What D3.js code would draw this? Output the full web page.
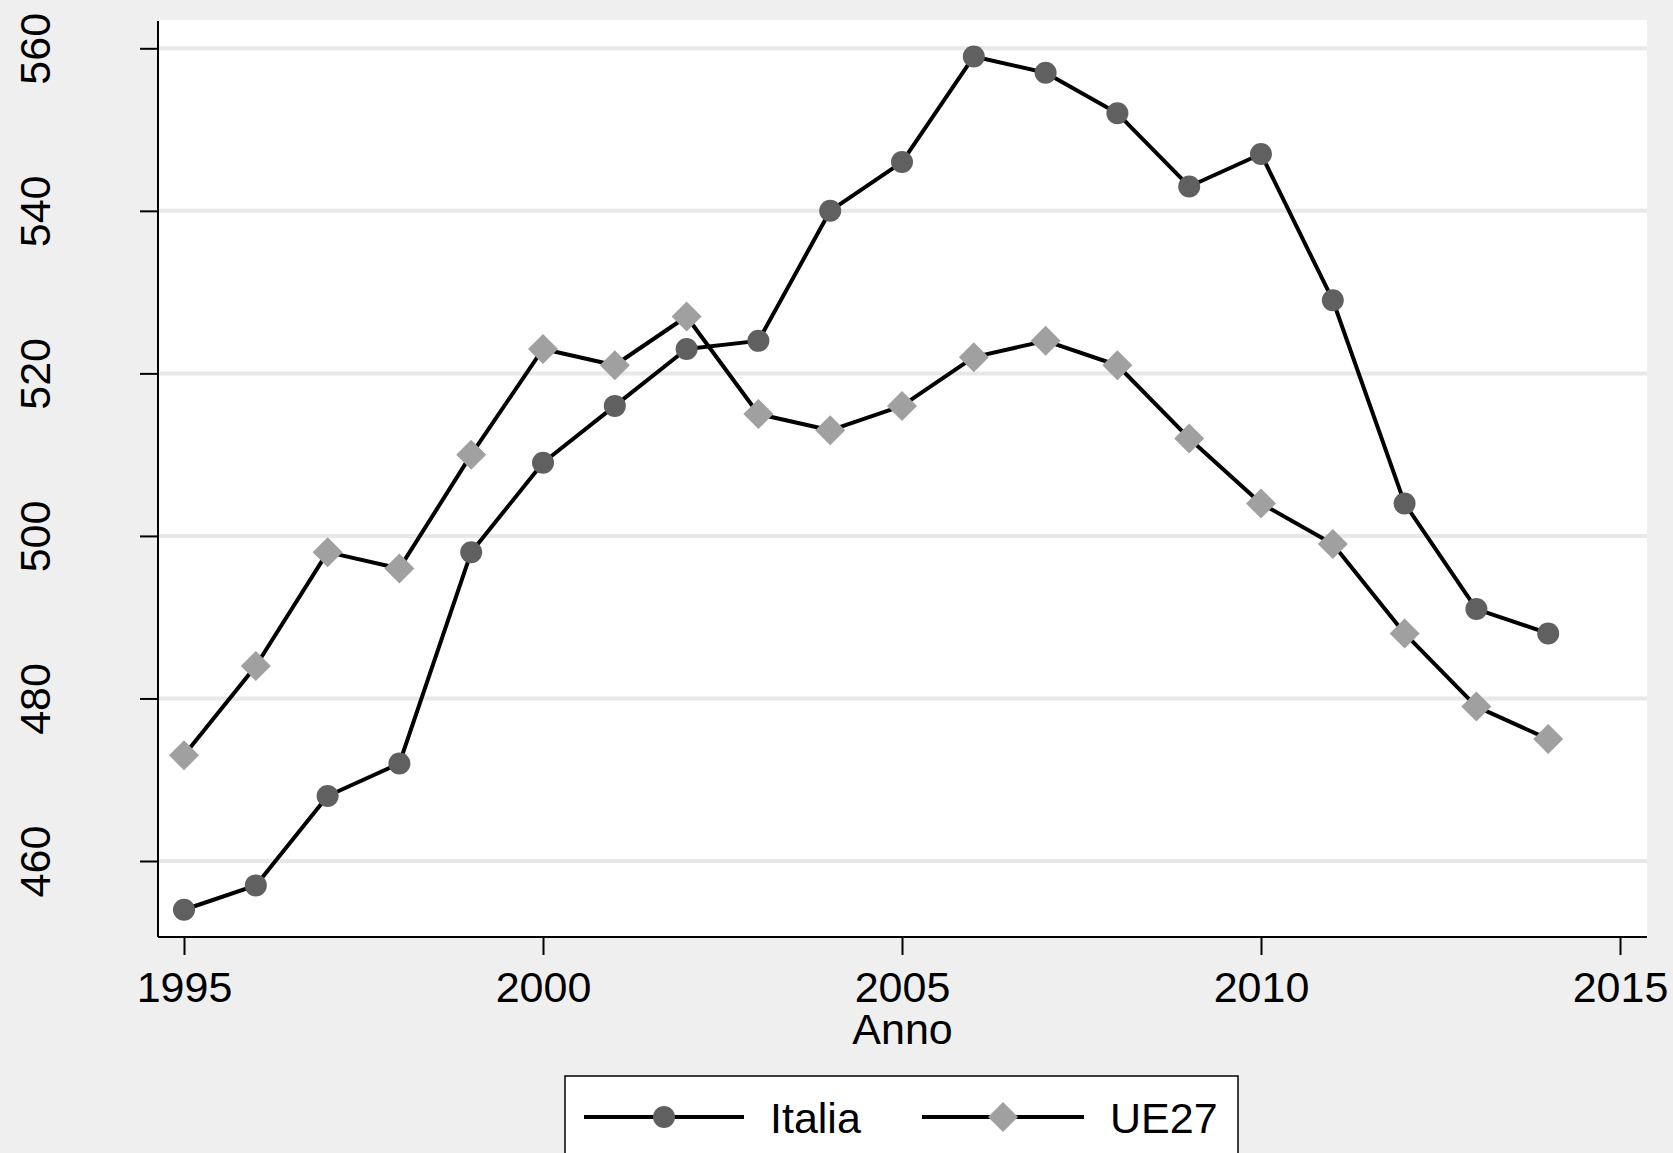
<!DOCTYPE html>
<html>
<head>
<meta charset="utf-8">
<script src="https://cdn.jsdelivr.net/npm/d3@7"></script>
<style>
  html, body { margin: 0; padding: 0; background: #efefef; }
  svg { display: block; font-family: "Liberation Sans", Arial, sans-serif; }
</style>
</head>
<body>
<svg id="chart" width="1673" height="1153"></svg>
<script>
const years = [1995,1996,1997,1998,1999,2000,2001,2002,2003,2004,2005,2006,2007,2008,2009,2010,2011,2012,2013,2014];
const italia = [454,457,468,472,498,509,516,523,524,540,546,559,557,552,543,547,529,504,491,488];
const ue27 = [473,484,498,496,510,523,521,527,515,513,516,522,524,521,512,504,499,488,479,475];
const xTicks = [1995,2000,2005,2010,2015];
const yTicks = [460,480,500,520,540,560];
const seriesNames = ["Italia","UE27"];
const xTitle = "Anno";

const W = 1673, H = 1153;
const plot = {left: 158, right: 1647, top: 20, bottom: 937};
const svg = d3.select("#chart");

svg.append("rect").attr("width", W).attr("height", H).attr("fill", "#efefef");

const x = d3.scaleLinear().domain([1995, 2015]).range([184, 1620]);
const y = d3.scaleLinear().domain([460, 560]).range([861, 48.3]);

svg.append("rect")
  .attr("x", plot.left).attr("y", plot.top)
  .attr("width", plot.right - plot.left).attr("height", plot.bottom - plot.top)
  .attr("fill", "#ffffff");

// gridlines
svg.append("g").selectAll("line").data(yTicks).join("line")
  .attr("x1", plot.left).attr("x2", plot.right)
  .attr("y1", d => y(d)).attr("y2", d => y(d))
  .attr("stroke", "#e8e8e8").attr("stroke-width", 4);

// y axis
const yAxis = svg.append("g").attr("transform", `translate(${plot.left},0)`)
  .call(d3.axisLeft(y).tickValues(yTicks).tickSize(18).tickSizeOuter(0).tickFormat(d3.format("d")));
yAxis.select(".domain").attr("d", `M0,${plot.top + 1}V${plot.bottom}`).attr("stroke", "#000").attr("stroke-width", 2);
yAxis.selectAll(".tick line").attr("stroke", "#000").attr("stroke-width", 2);
yAxis.selectAll(".tick text")
  .attr("x", null).attr("dy", null)
  .attr("transform", "translate(-108,0) rotate(-90)")
  .attr("text-anchor", "middle")
  .attr("font-size", 43).attr("font-family", "Liberation Sans, Arial, sans-serif")
  .attr("fill", "#000");

// x axis
const xAxis = svg.append("g").attr("transform", `translate(0,${plot.bottom})`)
  .call(d3.axisBottom(x).tickValues(xTicks).tickSize(18).tickSizeOuter(0).tickFormat(d3.format("d")));
xAxis.select(".domain").attr("d", `M${plot.left},0H${plot.right}`).attr("stroke", "#000").attr("stroke-width", 2);
xAxis.selectAll(".tick line").attr("stroke", "#000").attr("stroke-width", 2);
xAxis.selectAll(".tick text")
  .attr("y", 65).attr("dy", null)
  .attr("font-size", 43).attr("font-family", "Liberation Sans, Arial, sans-serif")
  .attr("fill", "#000");

svg.append("text")
  .attr("x", (plot.left + plot.right) / 2).attr("y", 1044)
  .attr("text-anchor", "middle").attr("font-size", 43).attr("fill", "#000")
  .text(xTitle);

const line = d3.line().x(d => x(d[0])).y(d => y(d[1]));
const dataI = years.map((yr, i) => [yr, italia[i]]);
const dataU = years.map((yr, i) => [yr, ue27[i]]);

const diamond = (cx, cy, r) => `M${cx},${cy - r}L${cx + r},${cy}L${cx},${cy + r}L${cx - r},${cy}Z`;

// UE27 series
svg.append("path").datum(dataU).attr("d", line)
  .attr("fill", "none").attr("stroke", "#000").attr("stroke-width", 4).attr("stroke-linejoin", "round");
// Italia series
svg.append("path").datum(dataI).attr("d", line)
  .attr("fill", "none").attr("stroke", "#000").attr("stroke-width", 4).attr("stroke-linejoin", "round");

svg.append("g").selectAll("path").data(dataU).join("path")
  .attr("d", d => diamond(x(d[0]), y(d[1]), 15)).attr("fill", "#a0a0a0");
svg.append("g").selectAll("circle").data(dataI).join("circle")
  .attr("cx", d => x(d[0])).attr("cy", d => y(d[1])).attr("r", 11).attr("fill", "#606060");

// legend
const lg = svg.append("g");
lg.append("rect").attr("x", 565).attr("y", 1076).attr("width", 673).attr("height", 100)
  .attr("fill", "#fff").attr("stroke", "#000").attr("stroke-width", 1.5);
const ly = 1117;
lg.append("line").attr("x1", 584).attr("x2", 744).attr("y1", ly).attr("y2", ly).attr("stroke", "#000").attr("stroke-width", 4);
lg.append("circle").attr("cx", 664).attr("cy", ly).attr("r", 11).attr("fill", "#606060");
lg.append("text").attr("x", 770).attr("y", ly + 16).attr("font-size", 43).attr("fill", "#000").text(seriesNames[0]);
lg.append("line").attr("x1", 922).attr("x2", 1084).attr("y1", ly).attr("y2", ly).attr("stroke", "#000").attr("stroke-width", 4);
lg.append("path").attr("d", diamond(1003, ly, 15)).attr("fill", "#a0a0a0");
lg.append("text").attr("x", 1110).attr("y", ly + 16).attr("font-size", 43).attr("fill", "#000").text(seriesNames[1]);
</script>
</body>
</html>
